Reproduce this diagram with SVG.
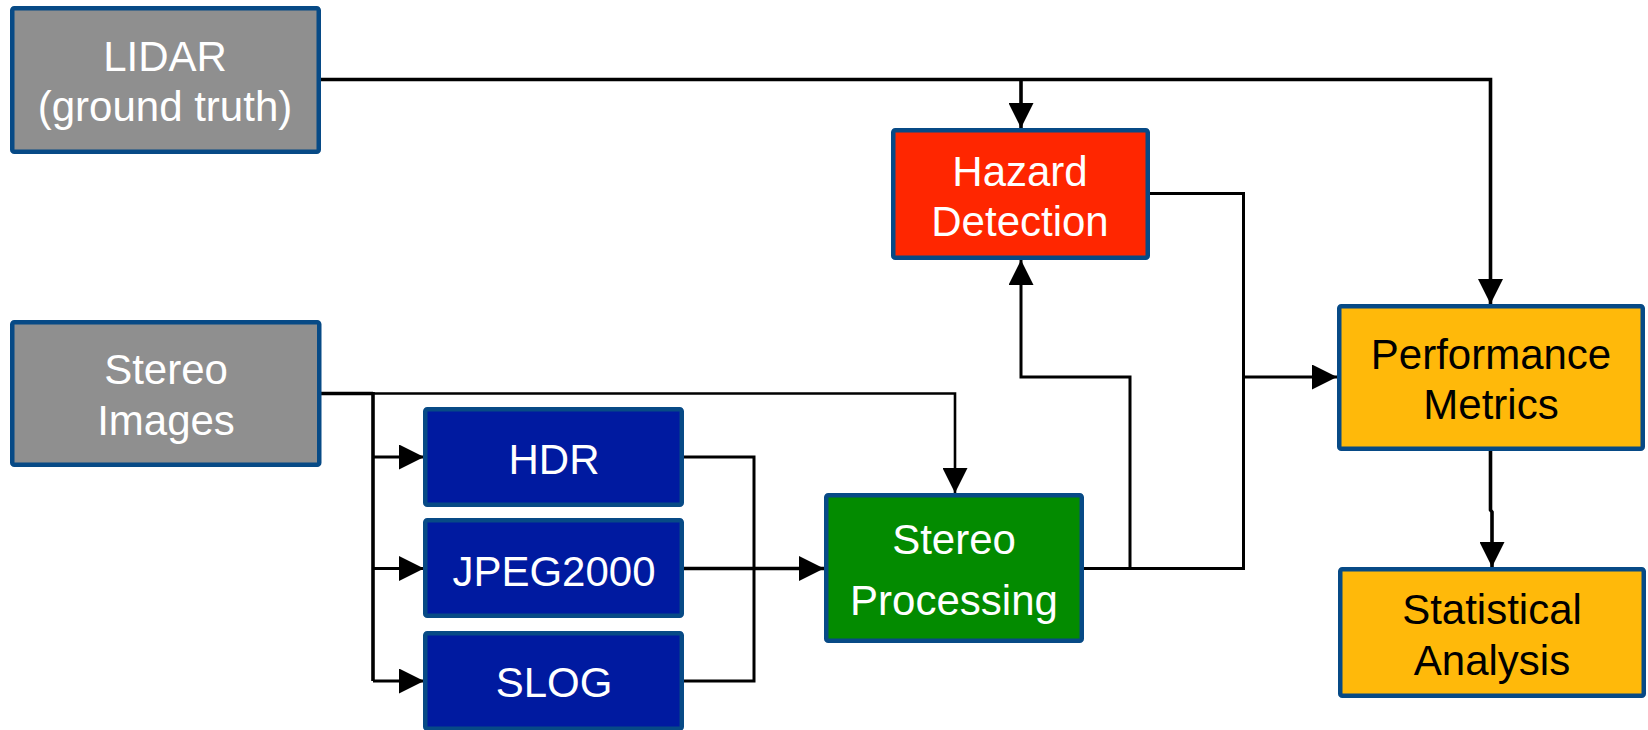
<svg xmlns="http://www.w3.org/2000/svg" width="1648" height="730" viewBox="0 0 1648 730">
  <style>
    .box { stroke: #074a86; stroke-width: 4.5; }
    .grey { fill: #8f8f8f; }
    .blue { fill: #001aa0; }
    .red { fill: #ff2600; }
    .green { fill: #038b00; }
    .yellow { fill: #ffb90a; }
    .lbl { font-family: "Liberation Sans", Arial, sans-serif; font-size: 42px; text-anchor: middle; }
    .w { fill: #ffffff; }
    .k { fill: #000000; }
    .c { fill: none; stroke: #000; stroke-width: 3; stroke-linejoin: miter; }
    .thick { stroke-width: 3.6; }
    .thin { stroke-width: 2.6; }
  </style>
  <defs>
    <marker id="arr" viewBox="0 0 25 25" refX="25" refY="12.5" markerWidth="25" markerHeight="25" markerUnits="userSpaceOnUse" orient="auto">
      <path d="M0,0 L25,12.5 L0,25 z" fill="#000"/>
    </marker>
  </defs>
  <rect width="1648" height="730" fill="#ffffff"/>

  <g id="connectors">
    <path class="c thick" d="M321,79.5 H1490.5 V304" marker-end="url(#arr)"/>
    <path class="c thick" d="M1021,79.5 V128" marker-end="url(#arr)"/>
    <path class="c thick" d="M321,393.5 H373"/>
    <path class="c thin" d="M373,393.5 H955 V493" marker-end="url(#arr)"/>
    <path class="c thick" d="M373,392 V681"/>
    <path class="c" d="M373,457 H424" marker-end="url(#arr)"/>
    <path class="c" d="M373,568.5 H424" marker-end="url(#arr)"/>
    <path class="c" d="M373,681 H424" marker-end="url(#arr)"/>
    <path class="c" d="M684,457 H754 V681 H684"/>
    <path class="c thick" d="M684,568.5 H824" marker-end="url(#arr)"/>
    <path class="c" d="M1084,568.5 H1243.5 V193.5 H1150"/>
    <path class="c" d="M1130,568.5 V377 H1021 V260" marker-end="url(#arr)"/>
    <path class="c" d="M1243.5,377 H1337" marker-end="url(#arr)"/>
    <path class="c thick" d="M1490.5,451 V510 L1492,512 V567" marker-end="url(#arr)"/>
  </g>

  <g id="lidar">
    <rect class="box grey" x="12.25" y="8.25" width="306.5" height="143.5" rx="2"/>
    <text class="lbl w" x="165" y="71">LIDAR</text>
    <text class="lbl w" x="165" y="121">(ground truth)</text>
  </g>
  <g id="stereo-images">
    <rect class="box grey" x="12.25" y="322.25" width="307" height="142.5" rx="2"/>
    <text class="lbl w" x="166" y="384">Stereo</text>
    <text class="lbl w" x="166" y="435">Images</text>
  </g>
  <g id="hdr">
    <rect class="box blue" x="425.25" y="409.25" width="256.5" height="95.5" rx="2"/>
    <text class="lbl w" x="554" y="474">HDR</text>
  </g>
  <g id="jpeg2000">
    <rect class="box blue" x="425.25" y="520.25" width="256.5" height="95.5" rx="2"/>
    <text class="lbl w" x="554" y="586">JPEG2000</text>
  </g>
  <g id="slog">
    <rect class="box blue" x="425.25" y="633.25" width="256.5" height="95.5" rx="2"/>
    <text class="lbl w" x="554" y="697">SLOG</text>
  </g>
  <g id="stereo-processing">
    <rect class="box green" x="826.25" y="495.25" width="255.5" height="145.5" rx="2"/>
    <text class="lbl w" x="954" y="554">Stereo</text>
    <text class="lbl w" x="954" y="615">Processing</text>
  </g>
  <g id="hazard-detection">
    <rect class="box red" x="893.25" y="130.25" width="254.5" height="127.5" rx="2"/>
    <text class="lbl w" x="1020" y="186">Hazard</text>
    <text class="lbl w" x="1020" y="236">Detection</text>
  </g>
  <g id="performance-metrics">
    <rect class="box yellow" x="1339.25" y="306.25" width="303.5" height="142.5" rx="2"/>
    <text class="lbl k" x="1491" y="369">Performance</text>
    <text class="lbl k" x="1491" y="419">Metrics</text>
  </g>
  <g id="statistical-analysis">
    <rect class="box yellow" x="1340.25" y="569.25" width="303.5" height="126.5" rx="2"/>
    <text class="lbl k" x="1492" y="624">Statistical</text>
    <text class="lbl k" x="1492" y="675">Analysis</text>
  </g>
</svg>
